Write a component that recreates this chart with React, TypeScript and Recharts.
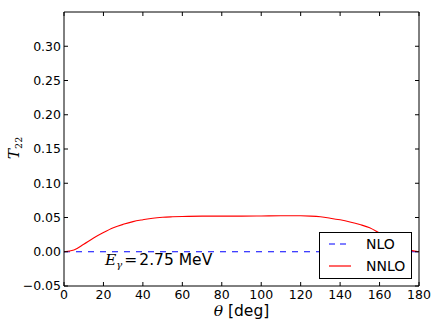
import { LineChart, Line, XAxis, YAxis, Legend, Customized } from 'recharts'

// scattering angle (deg)
const theta = [0, 5, 10, 15, 20, 25, 30, 35, 40, 45, 50, 55, 60, 70, 80, 90, 100, 110, 120, 125, 130, 135, 140, 145, 150, 155, 160, 165, 170, 175, 180]
const nlo = [0, 0, 0, 0, 0, 0, 0, 0, 0, 0, 0, 0, 0, 0, 0, 0, 0, 0, 0, 0, 0, 0, 0, 0, 0, 0, 0, 0, 0, 0, 0]
const nnlo = [0, 0.0025, 0.011, 0.02, 0.028, 0.035, 0.04, 0.044, 0.0467, 0.049, 0.0503, 0.051, 0.0515, 0.052, 0.052, 0.052, 0.0522, 0.0525, 0.0525, 0.052, 0.051, 0.049, 0.0466, 0.0435, 0.0397, 0.035, 0.027, 0.019, 0.0105, 0.003, 0]

const xTicks = [0, 20, 40, 60, 80, 100, 120, 140, 160, 180]
const yTicks = [-0.05, 0, 0.05, 0.1, 0.15, 0.2, 0.25, 0.3]

const data = theta.map((t, i) => ({ theta: t, nlo: nlo[i], nnlo: nnlo[i] }))

const SANS = '"DejaVu Sans", sans-serif'
const SERIF = '"DejaVu Serif", serif'
const tickStyle = { fontFamily: SANS, fontSize: 12.5, fill: '#000' }

const fmtY = (v: number) => v.toFixed(2).replace('-', '\u2212')

function renderLegend() {
  const rows = [
    { name: 'NLO', color: '#0000ff', dash: '6 5' },
    { name: 'NNLO', color: '#ff0000', dash: undefined },
  ]
  return (
    <div style={{ width: 91, height: 45, border: '1px solid #000', background: '#fff', position: 'relative' }}>
      {rows.map((r, i) => (
        <div key={r.name} style={{ position: 'absolute', left: 9, top: 2 + i * 22, height: 18, display: 'flex', alignItems: 'center' }}>
          <svg width={22} height={4} style={{ display: 'block' }}>
            <line x1={0} y1={2} x2={22} y2={2} stroke={r.color} strokeWidth={1.2} strokeDasharray={r.dash} />
          </svg>
          <span style={{ marginLeft: 15, fontFamily: SANS, fontSize: 14, color: '#000', lineHeight: '18px' }}>{r.name}</span>
        </div>
      ))}
    </div>
  )
}

function Annotations() {
  return (
    <g>
      <text x={105} y={265} fontSize={15.5} fill="#000">
        <tspan fontFamily={SERIF} fontStyle="italic">E</tspan>
        <tspan fontFamily={SERIF} fontStyle="italic" fontSize={10} dy={3}>γ</tspan>
        <tspan fontFamily={SERIF} dy={-3} dx={2}>=</tspan>
        <tspan fontFamily={SANS} dx={2}>2.75 MeV</tspan>
      </text>
      <text x={241.5} y={316} fontSize={15.5} fill="#000" textAnchor="middle">
        <tspan fontFamily={SERIF} fontStyle="italic">θ</tspan>
        <tspan fontFamily={SANS}> [deg]</tspan>
      </text>
      <text x={19} y={148} fontSize={15.5} fill="#000" textAnchor="middle" transform="rotate(-90 19 148)">
        <tspan fontFamily={SERIF} fontStyle="italic">T</tspan>
        <tspan fontFamily={SERIF} fontSize={9.5} dy={3}>22</tspan>
      </text>
    </g>
  )
}

export default function App() {
  return (
    <div style={{ position: 'absolute', left: 0, top: 0, background: '#fff' }}>
      <LineChart width={436} height={327} data={data} margin={{ top: 11, right: 16, bottom: 0, left: 0 }}>
        <XAxis
          xAxisId="b"
          dataKey="theta"
          type="number"
          domain={[0, 180]}
          ticks={xTicks}
          height={41}
          tickSize={-4}
          tickMargin={8}
          tick={tickStyle}
          stroke="#000"
          interval={0}
        />
        <XAxis
          xAxisId="t"
          dataKey="theta"
          orientation="top"
          type="number"
          domain={[0, 180]}
          ticks={xTicks}
          height={1}
          tickSize={-4}
          tickFormatter={() => ''}
          stroke="#000"
          interval={0}
        />
        <YAxis
          yAxisId="l"
          type="number"
          domain={[-0.05, 0.35]}
          ticks={yTicks}
          width={64}
          tickSize={-4}
          tickMargin={7}
          tick={tickStyle}
          tickFormatter={fmtY}
          stroke="#000"
          interval={0}
          allowDataOverflow
        />
        <YAxis
          yAxisId="r"
          orientation="right"
          type="number"
          domain={[-0.05, 0.35]}
          ticks={yTicks}
          width={1}
          tickSize={-4}
          tickFormatter={() => ''}
          stroke="#000"
          interval={0}
          allowDataOverflow
        />
        <Line xAxisId="b" yAxisId="l" type="linear" dataKey="nlo" name="NLO" stroke="#0000ff" strokeWidth={1.1} strokeDasharray="6 6" dot={false} isAnimationActive={false} />
        <Line xAxisId="b" yAxisId="l" type="monotone" dataKey="nnlo" name="NNLO" stroke="#ff0000" strokeWidth={1.1} dot={false} isAnimationActive={false} />
        {/* hidden series so the top / right frame axes get drawn */}
        <Line xAxisId="t" yAxisId="r" dataKey="nlo" stroke="none" dot={false} legendType="none" isAnimationActive={false} />
        <Legend
          layout="vertical"
          align="center"
          verticalAlign="middle"
          content={renderLegend}
          wrapperStyle={{ left: 319, top: 232, width: 93, height: 47 }}
        />
        <Customized component={Annotations} />
      </LineChart>
    </div>
  )
}
